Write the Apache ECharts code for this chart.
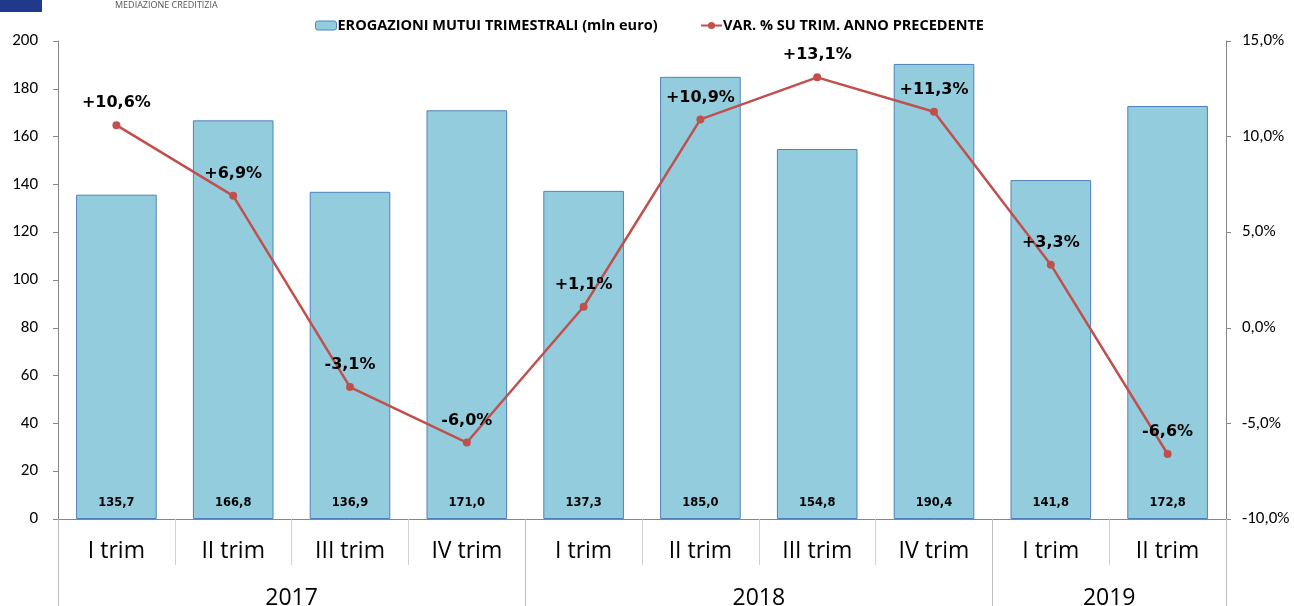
<!DOCTYPE html>
<html>
<head>
<meta charset="utf-8">
<style>
  html, body { margin: 0; padding: 0; background: #fff; }
  #chart { width: 1294px; height: 606px; }
</style>
<script src="https://cdn.jsdelivr.net/npm/echarts@6/dist/echarts.min.js"></script>
</head>
<body>
<div id="chart"></div>
<script>
// quarters and years
const quarters = ['I trim', 'II trim', 'III trim', 'IV trim', 'I trim', 'II trim', 'III trim', 'IV trim', 'I trim', 'II trim']
const years = ['2017', '2018', '2019']
const yearCenters = [2, 6, 9]
const yearBounds = [0, 4, 8, 10]

// mln euro per quarter
const erogazioni = [135.7, 166.8, 136.9, 171.0, 137.3, 185.0, 154.8, 190.4, 141.8, 172.8]
// yearly variation %
const variazione = [10.6, 6.9, -3.1, -6.0, 1.1, 10.9, 13.1, 11.3, 3.3, -6.6]

const fontMain = 'Carlito, Calibri, "Open Sans", "DejaVu Sans", sans-serif'
const fontWide = '"Open Sans", "DejaVu Sans", sans-serif'
const fontBold = '"DejaVu Sans", sans-serif'
const fontNarrow = '"Liberation Sans Narrow", "Open Sans", sans-serif'

const fmtComma = (v, d) => v.toFixed(d).replace('.', ',')

const chart = echarts.init(document.getElementById('chart'))

chart.setOption({
  animation: false,
  textStyle: { fontFamily: fontMain },
  graphic: [
    { type: 'rect', left: 0, top: 0, shape: { width: 42, height: 12 }, style: { fill: '#1f3a8a' } },
    {
      type: 'text', left: 115, top: 1,
      style: { text: 'MEDIAZIONE CREDITIZIA', fill: '#555', font: '9px ' + fontNarrow }
    }
  ],
  legend: [
    {
      top: 13,
      left: 310,
      itemWidth: 21,
      itemHeight: 9,
      textStyle: { fontFamily: fontNarrow, fontWeight: 'bold', fontSize: 14.5, color: '#000', padding: [0, 0, 0, -4] },
      data: [
        { name: 'EROGAZIONI MUTUI TRIMESTRALI (mln euro)', itemStyle: { borderWidth: 1, borderColor: '#4f81bd' } }
      ]
    },
    {
      top: 13,
      left: 695,
      itemWidth: 21,
      itemHeight: 9,
      textStyle: { fontFamily: fontNarrow, fontWeight: 'bold', fontSize: 14.5, color: '#000', padding: [0, 0, 0, -4] },
      data: [{ name: 'VAR. % SU TRIM. ANNO PRECEDENTE' }]
    }
  ],
  grid: { left: 58, right: 68, top: 41, bottom: 87, containLabel: false, outerBoundsMode: 'none' },
  xAxis: [
    {
      type: 'category',
      data: quarters,
      axisLine: { lineStyle: { color: '#868686' } },
      axisTick: { show: true, interval: 0, length: 46, lineStyle: { color: '#d0d0d0' } },
      axisLabel: { fontFamily: fontWide, fontSize: 23, color: '#000', margin: 21 }
    },
    {
      type: 'value',
      min: 0,
      max: 10,
      position: 'bottom',
      axisLine: { show: false, onZero: false },
      splitLine: { show: false },
      axisTick: {
        show: true, length: 87, customValues: yearBounds,
        lineStyle: { color: '#c0c0c0' }
      },
      axisLabel: {
        customValues: yearCenters,
        fontFamily: fontWide, fontSize: 23, color: '#000', margin: 68,
        formatter: v => years[yearCenters.indexOf(v)]
      }
    }
  ],
  yAxis: [
    {
      type: 'value',
      min: 0,
      max: 200,
      interval: 20,
      axisLine: { show: true, lineStyle: { color: '#868686' } },
      axisTick: { show: true, length: 5, lineStyle: { color: '#868686' } },
      splitLine: { show: false },
      axisLabel: { fontSize: 17, color: '#000', margin: 20 }
    },
    {
      type: 'value',
      min: -10,
      max: 15,
      interval: 5,
      axisLine: { show: true, lineStyle: { color: '#868686' } },
      axisTick: { show: true, length: 5, lineStyle: { color: '#868686' } },
      splitLine: { show: false },
      axisLabel: { fontSize: 17, color: '#000', margin: 16, formatter: v => fmtComma(v, 1) + '%' }
    }
  ],
  series: [
    {
      name: 'EROGAZIONI MUTUI TRIMESTRALI (mln euro)',
      type: 'bar',
      data: erogazioni,
      barWidth: '69%',
      itemStyle: { color: '#93cddd', borderColor: '#4f81bd', borderWidth: 1 },
      label: {
        show: true,
        position: 'insideBottom',
        distance: 10,
        fontFamily: fontBold,
        fontSize: 11.5,
        fontWeight: 'bold',
        color: '#000',
        formatter: p => fmtComma(p.value, 1)
      },
      z: 2
    },
    {
      name: 'VAR. % SU TRIM. ANNO PRECEDENTE',
      type: 'line',
      yAxisIndex: 1,
      data: variazione,
      symbol: 'circle',
      symbolSize: 8,
      lineStyle: { color: '#c0504d', width: 2.5 },
      itemStyle: { color: '#c0504d' },
      label: {
        show: true,
        position: 'top',
        distance: 10,
        fontFamily: fontBold,
        fontSize: 16,
        fontWeight: 'bold',
        color: '#000',
        formatter: p => (p.value > 0 ? '+' : '') + fmtComma(p.value, 1) + '%'
      },
      z: 5
    }
  ]
})
</script>
</body>
</html>
